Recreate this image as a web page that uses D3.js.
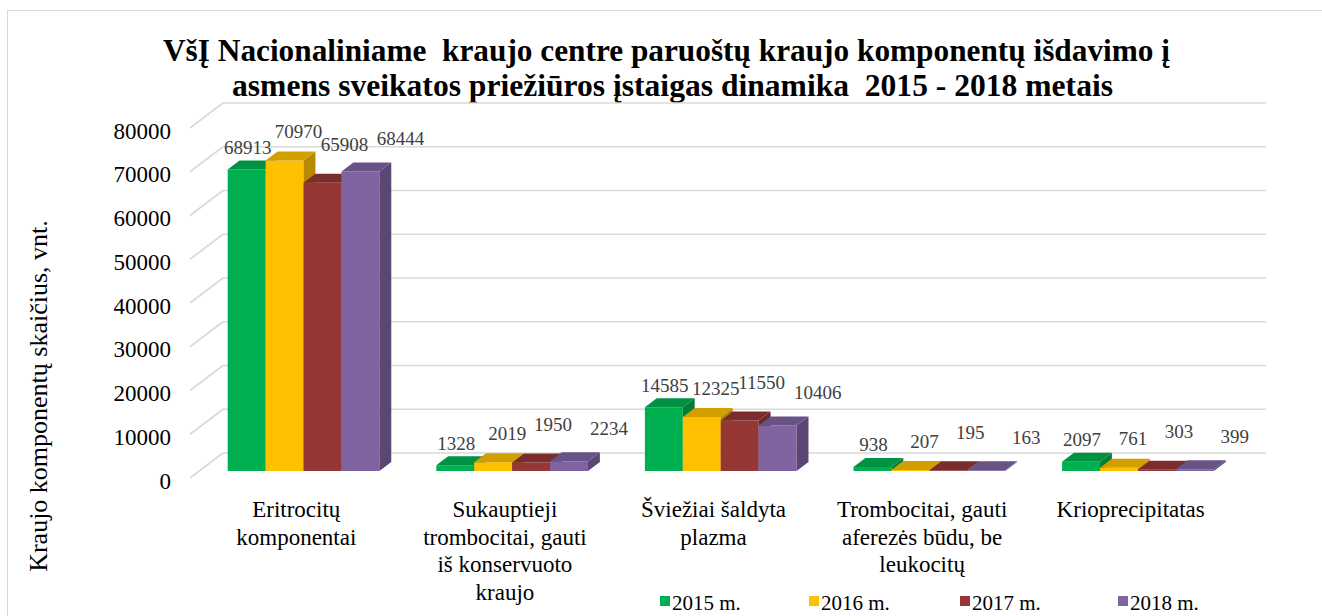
<!DOCTYPE html>
<html>
<head>
<meta charset="utf-8">
<script src="https://cdn.jsdelivr.net/npm/d3@7"></script>
<style>
  html, body { margin: 0; padding: 0; background: #fff; }
  svg text { white-space: pre; }
</style>
</head>
<body>
<svg id="chart" width="1322" height="616" font-family="'Liberation Serif', 'Times New Roman', Tinos, 'DejaVu Serif', serif"></svg>
<script>
// ---------- data ----------
const categories = [
  ["Eritrocitų", "komponentai"],
  ["Sukauptieji", "trombocitai, gauti", "iš konservuoto", "kraujo"],
  ["Šviežiai šaldyta", "plazma"],
  ["Trombocitai, gauti", "aferezės būdu, be", "leukocitų"],
  ["Krioprecipitatas"]
];
const seriesNames = ["2015 m.", "2016 m.", "2017 m.", "2018 m."];
const values2015 = [68913, 1328, 14585, 938, 2097];
const values2016 = [70970, 2019, 12325, 207, 761];
const values2017 = [65908, 1950, 11550, 195, 303];
const values2018 = [68444, 2234, 10406, 163, 399];
const yTickValues = [0, 10000, 20000, 30000, 40000, 50000, 60000, 70000, 80000];
const titleLines = [
  "VšĮ Nacionaliniame  kraujo centre paruoštų kraujo komponentų išdavimo į",
  "asmens sveikatos priežiūros įstaigas dinamika  2015 - 2018 metais"
];
const yAxisTitle = "Kraujo komponentų skaičius, vnt.";
const seriesColors = ["#00B050", "#FFC000", "#953735", "#8064A2"];

// ---------- layout ----------
const svg = d3.select("#chart");
const frontLeft = 190, frontRight = 1233;
const depthX = 33, depthY = -25;        // full floor depth vector
const barT0 = 0.28, barT1 = 0.64;        // bar front / back depth fractions
const labelOffX = [1, 14, 22, 40];
const labelOffY = [13, 20, 29, 24];

const seriesValues = [values2015, values2016, values2017, values2018];

const x0 = d3.scaleBand().domain(d3.range(categories.length)).range([frontLeft, frontRight]).paddingInner(0).paddingOuter(0);
const bw = x0.bandwidth();
const barW = bw / 5.5;
const x1 = d3.scaleBand().domain(d3.range(seriesNames.length)).range([0, barW * 4]).padding(0);
const groupOffset = (bw - barW * 4) / 2;

const y = d3.scaleLinear().domain([0, 80000]).range([478, 128]);

// chart border
svg.append("rect").attr("x", 7.5).attr("y", 10.5).attr("width", 1330).attr("height", 620)
  .attr("fill", "#fff").attr("stroke", "#D9D9D9").attr("stroke-width", 1);

// title
const titleX = [163, 232], titleLen = [1007, 881], titleY = [61, 96];
titleLines.forEach((t, i) => {
  svg.append("text")
    .attr("x", titleX[i]).attr("y", titleY[i])
    .attr("textLength", titleLen[i]).attr("lengthAdjust", "spacingAndGlyphs")
    .attr("font-size", 31).attr("font-weight", "bold").attr("fill", "#000")
    .text(t);
});

// gridlines (back wall + side diagonals)
const grid = svg.append("g").attr("stroke", "#D9D9D9").attr("stroke-width", 1.6).attr("fill", "none");
yTickValues.forEach(v => {
  const yf = y(v);
  grid.append("line").attr("x1", frontLeft).attr("y1", yf).attr("x2", frontLeft + depthX).attr("y2", yf + depthY);
  grid.append("line").attr("x1", frontLeft + depthX).attr("y1", yf + depthY).attr("x2", frontRight + depthX).attr("y2", yf + depthY);
});

// y tick labels
svg.append("g").selectAll("text").data(yTickValues).join("text")
  .attr("x", 171).attr("y", d => y(d) + 3)
  .attr("text-anchor", "end").attr("dominant-baseline", "central")
  .attr("font-size", 23).attr("fill", "#000")
  .text(d3.format("d"));

// y axis title
svg.append("text")
  .attr("transform", "translate(38,396) rotate(-90)")
  .attr("text-anchor", "middle").attr("dominant-baseline", "central")
  .attr("font-size", 26).attr("fill", "#000")
  .text(yAxisTitle);

// bars
const dx0 = depthX * barT0, dy0 = depthY * barT0;
const ddx = depthX * (barT1 - barT0), ddy = depthY * (barT1 - barT0);
const barsG = svg.append("g");
const barData = [];
categories.forEach((c, ci) => {
  seriesNames.forEach((s, si) => {
    const v = seriesValues[si][ci];
    const xl = x0(ci) + groupOffset + x1(si) + dx0;
    const xr = xl + barW;
    const yb = y(0) + dy0;
    const yt = y(v) + dy0;
    barData.push({ ci, si, v, xl, xr, yb, yt });
  });
});
const pts = a => a.map(p => p.join(",")).join(" ");
categories.forEach((c, ci) => {
  barData.filter(d => d.ci === ci).forEach(d => {
    const col = d3.color(seriesColors[d.si]);
    const g = barsG.append("g");
    g.append("polygon").attr("points", pts([[d.xl, d.yb], [d.xr, d.yb], [d.xr, d.yt], [d.xl, d.yt]]))
      .attr("fill", col.formatHex());
    g.append("polygon").attr("points", pts([[d.xr, d.yb], [d.xr + ddx, d.yb + ddy], [d.xr + ddx, d.yt + ddy], [d.xr, d.yt]]))
      .attr("fill", col.darker(0.95).formatHex());
    g.append("polygon").attr("points", pts([[d.xl, d.yt], [d.xr, d.yt], [d.xr + ddx, d.yt + ddy], [d.xl + ddx, d.yt + ddy]]))
      .attr("fill", col.darker(0.55).formatHex());
  });
});

// value labels
svg.append("g").selectAll("text").data(barData).join("text")
  .attr("x", d => (d.xl + d.xr) / 2 + labelOffX[d.si])
  .attr("y", d => d.yt + ddy - labelOffY[d.si])
  .attr("text-anchor", "middle").attr("dominant-baseline", "central")
  .attr("font-size", 19).attr("fill", "#404040")
  .text(d => d.v);

// category labels
const catG = svg.append("g");
categories.forEach((lines, ci) => {
  const cx = x0(ci) + bw / 2 + 2;
  const t = catG.append("text").attr("text-anchor", "middle").attr("font-size", 23).attr("fill", "#000");
  lines.forEach((ln, li) => {
    t.append("tspan").attr("x", cx).attr("y", 517 + li * 27.5).text(ln);
  });
});

// legend
const legendX = [660, 809, 960, 1118];
const legG = svg.append("g");
seriesNames.forEach((s, i) => {
  legG.append("rect").attr("x", legendX[i]).attr("y", 596).attr("width", 10).attr("height", 10).attr("fill", seriesColors[i]);
  legG.append("text").attr("x", legendX[i] + 12).attr("y", 610).attr("font-size", 21).attr("fill", "#000").text(s);
});
</script>
</body>
</html>
